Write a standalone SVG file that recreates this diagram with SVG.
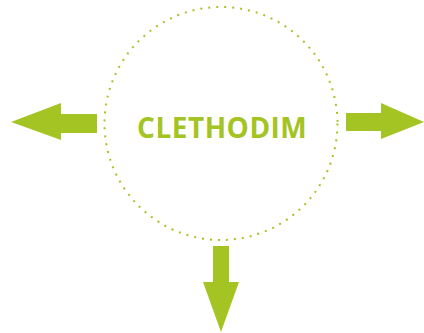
<svg xmlns="http://www.w3.org/2000/svg" width="424" height="333" viewBox="0 0 424 333">
<style>
.arrow{fill:#a3c423}
.ring{fill:none;stroke:#a3c423;stroke-width:2;stroke-dasharray:2 6}
.label{font-family:"Open Sans","Noto Sans",sans-serif;font-weight:bold;font-size:28px;letter-spacing:0.5px;fill:#a3c423}
</style>
<rect width="424" height="333" fill="#ffffff"/>
<g id="center">
<circle class="ring" cx="221" cy="123.5" r="116.5"/>
<text class="label" x="222.2" y="137.5" text-anchor="middle">CLETHODIM</text>
</g>
<g id="connectors">
<polygon class="arrow" points="97,114 61,114 61,103 11,122 61,140 61,133 97,133"/>
<polygon class="arrow" points="346,113 381,113 381,103 424,122 381,139 381,131 346,131"/>
<polygon class="arrow" points="213,246 229,246 229,282 239,282 221,332 203,282 213,282"/>
</g>
</svg>
